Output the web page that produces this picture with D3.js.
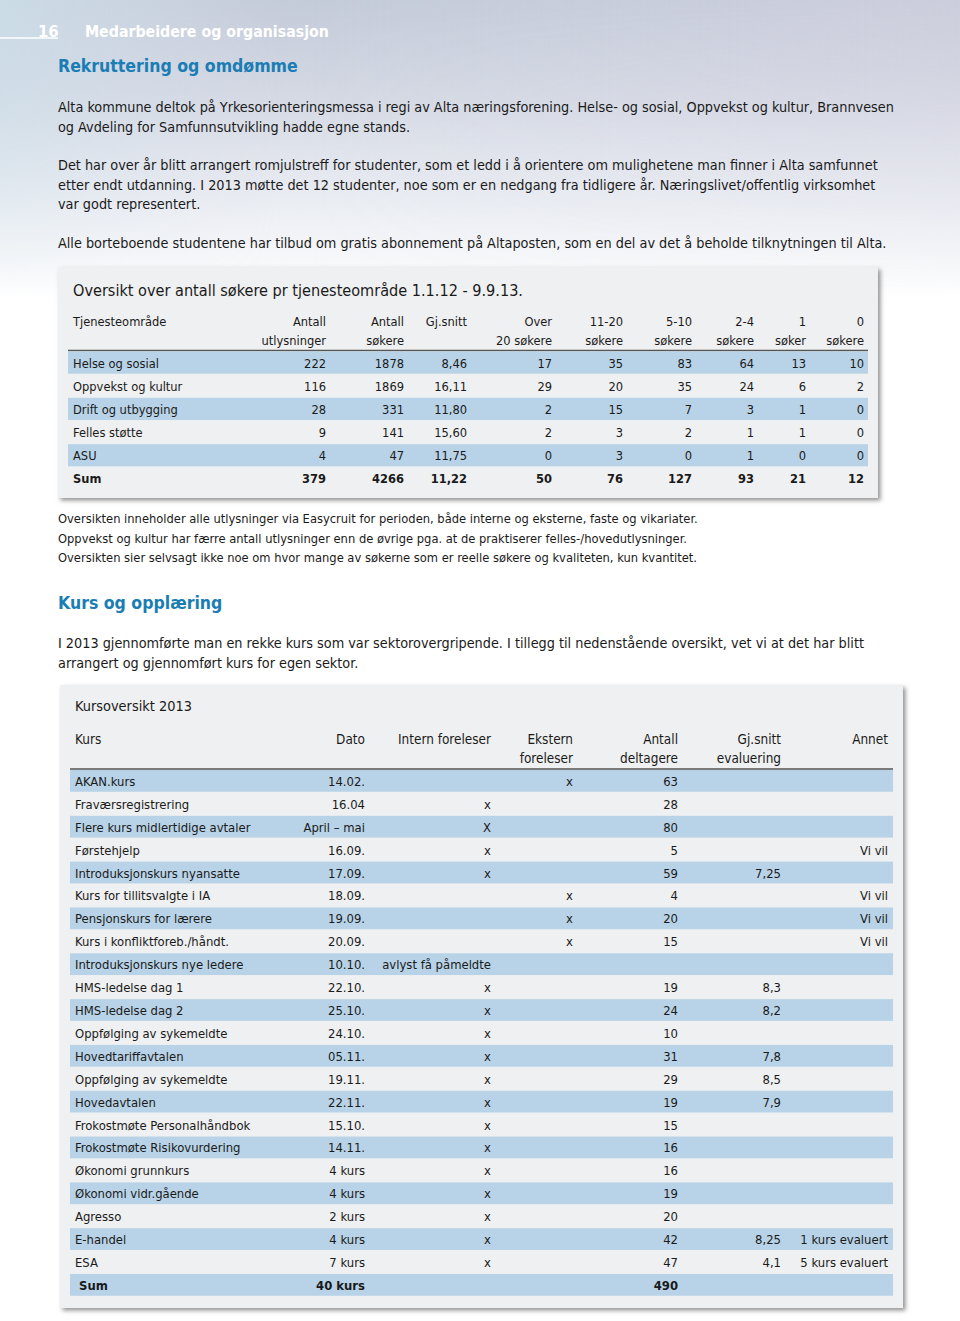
<!DOCTYPE html>
<html><head><meta charset="utf-8">
<script src="https://cdn.jsdelivr.net/npm/d3@7"></script>
<style>
html,body{margin:0;padding:0;background:#fff;}
svg{display:block;}
</style></head>
<body>
<script>
// ---------------- DATA ----------------
const pageNumber = "16";
const chapterTitle = "Medarbeidere og organisasjon";
const heading1 = "Rekruttering og omdømme";
const para1 = ["Alta kommune deltok på Yrkesorienteringsmessa i regi av Alta næringsforening. Helse- og sosial, Oppvekst og kultur, Brannvesen",
  "og Avdeling for Samfunnsutvikling hadde egne stands."];
const para2 = ["Det har over år blitt arrangert romjulstreff for studenter, som et ledd i å orientere om mulighetene man finner i Alta samfunnet",
  "etter endt utdanning. I 2013 møtte det 12 studenter, noe som er en nedgang fra tidligere år. Næringslivet/offentlig virksomhet",
  "var godt representert."];
const para3 = ["Alle borteboende studentene har tilbud om gratis abonnement på Altaposten, som en del av det å beholde tilknytningen til Alta."];

const t1Title = "Oversikt over antall søkere pr tjenesteområde 1.1.12 - 9.9.13.";
const t1HeaderFirst = "Tjenesteområde";
const t1Headers = [["Antall","utlysninger"],["Antall","søkere"],["Gj.snitt",""],["Over","20 søkere"],["11-20","søkere"],["5-10","søkere"],["2-4","søkere"],["1","søker"],["0","søkere"]];
const t1Categories = ["Helse og sosial","Oppvekst og kultur","Drift og utbygging","Felles støtte","ASU"];
const t1Utlysninger = [222,116,28,9,4];
const t1Sokere = [1878,1869,331,141,47];
const t1Snitt = ["8,46","16,11","11,80","15,60","11,75"];
const t1Over20 = [17,29,2,2,0];
const t1S11_20 = [35,20,15,3,3];
const t1S5_10 = [83,35,7,2,0];
const t1S2_4 = [64,24,3,1,1];
const t1S1 = [13,6,1,1,0];
const t1S0 = [10,2,0,0,0];
const t1SumLabel = "Sum";
const t1Sums = ["379","4266","11,22","50","76","127","93","21","12"];

const notes = ["Oversikten inneholder alle utlysninger via Easycruit for perioden, både interne og eksterne, faste og vikariater.",
  "Oppvekst og kultur har færre antall utlysninger enn de øvrige pga. at de praktiserer felles-/hovedutlysninger.",
  "Oversikten sier selvsagt ikke noe om hvor mange av søkerne som er reelle søkere og kvaliteten, kun kvantitet."];

const heading2 = "Kurs og opplæring";
const para4 = ["I 2013 gjennomførte man en rekke kurs som var sektorovergripende. I tillegg til nedenstående oversikt, vet vi at det har blitt",
  "arrangert og gjennomført kurs for egen sektor."];

const t2Title = "Kursoversikt 2013";
const t2Headers = [["Kurs",""],["Dato",""],["Intern foreleser",""],["Ekstern","foreleser"],["Antall","deltagere"],["Gj.snitt","evaluering"],["Annet",""]];
const t2Courses = ["AKAN.kurs","Fraværsregistrering","Flere kurs midlertidige avtaler","Førstehjelp","Introduksjonskurs nyansatte","Kurs for tillitsvalgte i IA","Pensjonskurs for lærere","Kurs i konfliktforeb./håndt.","Introduksjonskurs nye ledere","HMS-ledelse dag 1","HMS-ledelse dag 2","Oppfølging av sykemeldte","Hovedtariffavtalen","Oppfølging av sykemeldte","Hovedavtalen","Frokostmøte Personalhåndbok","Frokostmøte Risikovurdering","Økonomi grunnkurs","Økonomi vidr.gående","Agresso","E-handel","ESA"];
const t2Dates = ["14.02.","16.04","April – mai","16.09.","17.09.","18.09.","19.09.","20.09.","10.10.","22.10.","25.10.","24.10.","05.11.","19.11.","22.11.","15.10.","14.11.","4 kurs","4 kurs","2 kurs","4 kurs","7 kurs"];
const t2Intern = ["","x","X","x","x","","","","avlyst få påmeldte","x","x","x","x","x","x","x","x","x","x","x","x","x"];
const t2Ekstern = ["x","","","","","x","x","x","","","","","","","","","","","","","",""];
const t2Deltagere = [63,28,80,5,59,4,20,15,null,19,24,10,31,29,19,15,16,16,19,20,42,47];
const t2Evaluering = ["","","","","7,25","","","","","8,3","8,2","","7,8","8,5","7,9","","","","","","8,25","4,1"];
const t2Annet = ["","","","Vi vil","","Vi vil","Vi vil","Vi vil","","","","","","","","","","","","","1 kurs evaluert","5 kurs evaluert"];
const t2SumLabel = "Sum";
const t2SumDato = "40 kurs";
const t2SumDeltagere = "490";

// ---------------- LAYOUT ----------------
const W = 960, H = 1321;
const FONT = "'DejaVu Sans Condensed','DejaVu Sans',sans-serif";
const BLUE = "#1a7db3", BAND = "#b8d3e7", BOX = "#eff0f1", TXT = "#1a1a1a";

const svg = d3.select("body").append("svg").attr("width", W).attr("height", H)
  .style("font-family", FONT);
const defs = svg.append("defs");
const g1 = defs.append("linearGradient").attr("id","bg").attr("x1",0).attr("y1",0).attr("x2",0).attr("y2",1);
g1.append("stop").attr("offset","0%").attr("stop-color","#c4cbd9");
g1.append("stop").attr("offset","30%").attr("stop-color","#d3d8e3");
g1.append("stop").attr("offset","65%").attr("stop-color","#e9ecf2");
g1.append("stop").attr("offset","100%").attr("stop-color","#ffffff");
const g2 = defs.append("linearGradient").attr("id","bgh").attr("x1",0).attr("y1",0).attr("x2",1).attr("y2",0);
g2.append("stop").attr("offset","0%").attr("stop-color","#cde3ec").attr("stop-opacity",0.7);
g2.append("stop").attr("offset","30%").attr("stop-color","#dde0ee").attr("stop-opacity",0);
g2.append("stop").attr("offset","100%").attr("stop-color","#ddd3e2").attr("stop-opacity",0.35);
const gm = defs.append("linearGradient").attr("id","fadeV").attr("x1",0).attr("y1",0).attr("x2",0).attr("y2",1);
gm.append("stop").attr("offset","0%").attr("stop-color","#fff");
gm.append("stop").attr("offset","100%").attr("stop-color","#000");
defs.append("mask").attr("id","fadeMask").append("rect").attr("width",W).attr("height",300).attr("fill","url(#fadeV)");
const sh = defs.append("filter").attr("id","shadow").attr("x","-5%").attr("y","-5%").attr("width","110%").attr("height","112%");
sh.append("feDropShadow").attr("dx",2.5).attr("dy",2.5).attr("stdDeviation",2.2).attr("flood-color","#777").attr("flood-opacity",0.8);

svg.append("rect").attr("width",W).attr("height",H).attr("fill","#fff");
svg.append("rect").attr("width",W).attr("height",300).attr("fill","url(#bg)");
svg.append("rect").attr("width",W).attr("height",300).attr("fill","url(#bgh)").attr("mask","url(#fadeMask)");

// measuring helper: fit font size so a sample string spans a target width
const meas = svg.append("text").style("font-family",FONT).attr("x",-1000).attr("y",-1000);
function fit(sample, target, weight, base) {
  meas.attr("font-size", base).attr("font-weight", weight || "normal").text(sample);
  const w = meas.node().getComputedTextLength();
  return base * target / w;
}
const fsBody = fit(para1[0], 837, "normal", 14);
const fsHead = fit(heading1, 240, "bold", 17);
const fsChap = fit(chapterTitle, 244, "bold", 15);
const fsT1Title = fit(t1Title, 450, "normal", 16);
const fsT1 = fit("Helse og sosial", 86, "normal", 13);
const fsNotes = fit(notes[0], 640, "normal", 12);
const fsT2 = fit("Introduksjonskurs nyansatte", 165, "normal", 13);
const fsT2Title = fit(t2Title, 117, "normal", 14.5);
meas.remove();

function txt(sel, x, y, s, size, opts) {
  opts = opts || {};
  return sel.append("text").attr("x", x).attr("y", y).text(s)
    .attr("font-size", size).attr("fill", opts.fill || TXT)
    .attr("font-weight", opts.weight || "normal")
    .attr("text-anchor", opts.anchor || "start");
}

// header
svg.append("line").attr("x1",0).attr("x2",58).attr("y1",38).attr("y2",38).attr("stroke","#fff").attr("stroke-width",1.5);
txt(svg, 38, 37, pageNumber, fsChap*1.05, {fill:"#fff", weight:"bold"});
txt(svg, 85, 37, chapterTitle, fsChap, {fill:"#fff", weight:"bold"});
txt(svg, 58, 72, heading1, fsHead, {fill:BLUE, weight:"bold"});

para1.forEach((l,i)=>txt(svg,58,112+i*19.5,l,fsBody));
para2.forEach((l,i)=>txt(svg,58,170+i*19.5,l,fsBody));
para3.forEach((l,i)=>txt(svg,58,248+i*19.5,l,fsBody));

// ---------------- TABLE 1 ----------------
const t1 = svg.append("g");
t1.append("rect").attr("x",58).attr("y",267).attr("width",820).attr("height",231).attr("fill",BOX).attr("filter","url(#shadow)");
txt(t1, 73, 296, t1Title, fsT1Title);
const t1ColRight = [326,404,467,552,623,692,754,806,864];
txt(t1, 73, 326, t1HeaderFirst, fsT1);
t1Headers.forEach((h,j)=>{
  txt(t1, t1ColRight[j], 326, h[0], fsT1, {anchor:"end"});
  if (h[1]) txt(t1, t1ColRight[j], 345, h[1], fsT1, {anchor:"end"});
});
const t1Rows = t1Categories.concat([t1SumLabel]);
const y1 = d3.scaleBand().domain(d3.range(t1Rows.length)).range([351.5, 351.5 + 23*t1Rows.length]).paddingInner(0.04);
t1.append("line").attr("x1",68).attr("x2",868).attr("y1",350.5).attr("y2",350.5).attr("stroke","#555").attr("stroke-width",1.3);
t1.selectAll("rect.band").data(d3.range(t1Categories.length).filter(i=>i%2===0))
  .join("rect").attr("class","band").attr("x",68).attr("width",800)
  .attr("y",i=>y1(i)).attr("height",y1.bandwidth()).attr("fill",BAND);
const t1Cols = [t1Utlysninger,t1Sokere,t1Snitt,t1Over20,t1S11_20,t1S5_10,t1S2_4,t1S1,t1S0];
t1Categories.forEach((c,i)=>{
  const yb = y1(i) + y1.bandwidth()/2 + 5;
  txt(t1, 73, yb, c, fsT1);
  t1Cols.forEach((col,j)=>txt(t1, t1ColRight[j], yb, col[i], fsT1, {anchor:"end"}));
});
{
  const i = t1Categories.length;
  const yb = y1(i) + y1.bandwidth()/2 + 5;
  txt(t1, 73, yb, t1SumLabel, fsT1, {weight:"bold"});
  t1Sums.forEach((s,j)=>txt(t1, t1ColRight[j], yb, s, fsT1, {anchor:"end", weight:"bold"}));
}

notes.forEach((l,i)=>txt(svg,58,523+i*19.7,l,fsNotes));

txt(svg, 58, 609, heading2, fsHead, {fill:BLUE, weight:"bold"});
para4.forEach((l,i)=>txt(svg,58,648+i*19.5,l,fsBody));

// ---------------- TABLE 2 ----------------
const t2 = svg.append("g");
t2.append("rect").attr("x",60).attr("y",685).attr("width",843).attr("height",623).attr("fill",BOX).attr("filter","url(#shadow)");
txt(t2, 75, 711, t2Title, fsT2Title);
const t2ColRight = [null,365,491,573,678,781,888];
t2Headers.forEach((h,j)=>{
  if (j===0) { txt(t2, 75, 744, h[0], fsT2*1.04); return; }
  txt(t2, t2ColRight[j], 744, h[0], fsT2*1.04, {anchor:"end"});
  if (h[1]) txt(t2, t2ColRight[j], 763, h[1], fsT2*1.04, {anchor:"end"});
});
t2.append("line").attr("x1",70).attr("x2",893).attr("y1",769).attr("y2",769).attr("stroke","#555").attr("stroke-width",1.3);
const nR2 = t2Courses.length + 1;
const y2 = d3.scaleBand().domain(d3.range(nR2)).range([770, 770 + 22.86*nR2]).paddingInner(0.05);
t2.selectAll("rect.band").data(d3.range(nR2).filter(i=>i%2===0))
  .join("rect").attr("class","band").attr("x",70).attr("width",823)
  .attr("y",i=>y2(i)).attr("height",y2.bandwidth()).attr("fill",BAND);
const t2Cols = [t2Dates,t2Intern,t2Ekstern,t2Deltagere,t2Evaluering,t2Annet];
t2Courses.forEach((c,i)=>{
  const yb = y2(i) + y2.bandwidth()/2 + 5;
  txt(t2, 75, yb, c, fsT2);
  t2Cols.forEach((col,k)=>{
    const v = col[i];
    if (v===null || v==="") return;
    txt(t2, t2ColRight[k+1], yb, v, fsT2, {anchor:"end"});
  });
});
{
  const i = t2Courses.length;
  const yb = y2(i) + y2.bandwidth()/2 + 5;
  txt(t2, 79, yb, t2SumLabel, fsT2, {weight:"bold"});
  txt(t2, t2ColRight[1], yb, t2SumDato, fsT2, {anchor:"end", weight:"bold"});
  txt(t2, t2ColRight[4], yb, t2SumDeltagere, fsT2, {anchor:"end", weight:"bold"});
}
</script>
</body></html>
